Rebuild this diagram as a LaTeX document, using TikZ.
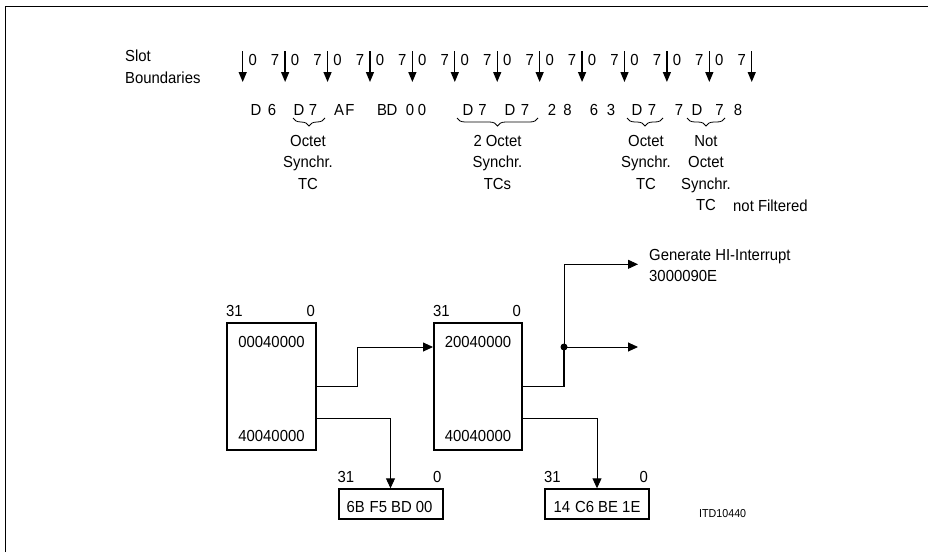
\documentclass[tikz,border=0pt]{standalone}
\usepackage{fontspec}
\setmainfont{Liberation Sans}[FakeStretch=0.93]
\usetikzlibrary{arrows.meta,decorations.pathreplacing}
\begin{document}
\begin{tikzpicture}[x=1pt,y=-1pt,
  font=\fontsize{16}{21.5}\selectfont,
  txt/.style={inner sep=0pt},
  slotarrow/.style={line width=1.3pt,-{Triangle[width=8pt,length=10pt]}},
  conn/.style={line width=0.9pt},
  connarrow/.style={conn,-{Triangle[width=9pt,length=10pt]}},
  reg/.style={draw,line width=2pt,inner sep=0pt},
  brc/.style={decorate,decoration={brace,mirror,amplitude=8pt},line width=0.8pt},
  small/.style={font=\fontsize{11.5}{13}\selectfont}]
\useasboundingbox (0,0) rectangle (928,552);
% frame
\draw[line width=1pt] (5,552) -- (5,6) -- (928,6);

% slot boundaries
\node[txt,anchor=base west] (slot) at (125,61.5) {Slot};
\node[txt,anchor=base west] (bnd) at (125,83) {Boundaries};
\foreach \i in {0,...,12}{
  \pgfmathsetmacro{\xx}{242.7+42.42*\i}
  \coordinate (s\i) at (\xx,51);
  \coordinate (e\i) at (\xx,82);
  \draw[slotarrow] (s\i) -- (e\i);
  \ifnum\i>0 \node[txt,anchor=base] (l\i) at (\xx-10,65) {7};\fi
  \ifnum\i<12 \node[txt,anchor=base] (r\i) at (\xx+10,65) {0};\fi
}

% hex stream
\foreach \xx/\ch [count=\k] in {256/D,272/6,299/D,313/7,339/A,350/F,382/B,392/D,410/0,422/0,468/D,482.5/7,510/D,525/7,552/2,567.5/8,594/6,611/3,637/D,652/7,679/7,697/D,719.5/7,738/8}{
  \node[txt,anchor=base] (h\k) at (\xx,115) {\ch};
}

% braces
\draw[brc] (293,118) -- (325,118);
\draw[brc] (457,118) -- (538,118);
\draw[brc] (627,118) -- (663,118);
\draw[brc] (687,118) -- (725,118);

% brace labels
\node[txt,align=center,anchor=north] (t1) at (308,135) {Octet\\Synchr.\\TC};
\node[txt,align=center,anchor=north] (t2) at (497.5,135) {2 Octet\\Synchr.\\TCs};
\node[txt,align=center,anchor=north] (t3) at (646,135) {Octet\\Synchr.\\TC};
\node[txt,align=center,anchor=north] (t4) at (706,135) {Not\\Octet\\Synchr.\\TC};
\node[txt,anchor=base west] (nf) at (733,211) {not Filtered};

% registers
\node[reg,minimum width=89pt,minimum height=127pt] (A) at (271.5,386.5) {};
\node[reg,minimum width=88pt,minimum height=127pt] (B) at (478,386.5) {};
\node[reg,minimum width=104pt,minimum height=30pt] (C) at (390.5,504.3) {};
\node[reg,minimum width=104pt,minimum height=30pt] (D) at (597,504.3) {};

\foreach \r in {A,B,C,D}{
  \node[txt,anchor=base west] (\r31) at ([yshift=6pt]\r.north west) {31};
  \node[txt,anchor=base east] (\r0) at ([yshift=6pt,xshift=-2pt]\r.north east) {0};
}
\node[txt,anchor=base] (a1) at ([yshift=-25pt]A.north) {00040000};
\node[txt,anchor=base] (a2) at ([yshift=10pt]A.south) {40040000};
\node[txt,anchor=base] (b1) at ([yshift=-25pt]B.north) {20040000};
\node[txt,anchor=base] (b2) at ([yshift=10pt]B.south) {40040000};
\node[txt,anchor=base] (c1) at ([yshift=7.5pt,xshift=-1pt]C.south) {6B\hspace{5pt}F5\hspace{4pt}BD 00};
\node[txt,anchor=base] (d1) at ([yshift=7.5pt]D.south) {14\hspace{5pt}C6 BE 1E};

% connectors
\coordinate (ab) at (357,347);
\draw[connarrow] (A.east) -| (ab) -- (B.west |- ab);
\coordinate (ac) at (390.5,418.3);
\draw[connarrow] (A.east |- ac) -| (C.north);
\coordinate (dot) at (564,347);
\coordinate (gen) at (638,264.3);
\coordinate (out) at (638,347);
\draw[line width=1.2pt] (B.east) -| (dot);
\draw[connarrow] (dot) |- (gen);
\draw[connarrow] (dot) -- (out);
\fill (dot) circle (3.5pt);
\coordinate (bd) at (597,418.3);
\draw[connarrow] (B.east |- bd) -| (D.north);

\node[txt,anchor=base west] (g1) at (649,260) {Generate HI-Interrupt};
\node[txt,anchor=base west] (g2) at (649,281.5) {3000090E};
\node[txt,small,anchor=base west] (itd) at (699,517) {ITD10440};
\end{tikzpicture}
\end{document}
